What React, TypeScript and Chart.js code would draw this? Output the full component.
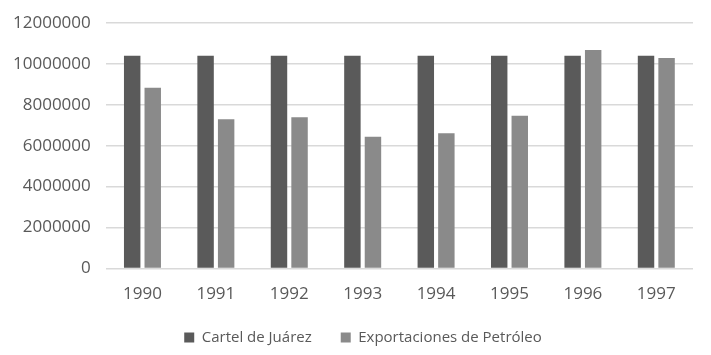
import React, { useEffect, useRef } from "react";
import { Chart, registerables } from "chart.js";

Chart.register(...registerables);

const categories = ["1990", "1991", "1992", "1993", "1994", "1995", "1996", "1997"];
const cartelJuarez = [10400000, 10400000, 10400000, 10400000, 10400000, 10400000, 10400000, 10400000];
const exportacionesPetroleo = [8830000, 7290000, 7390000, 6440000, 6610000, 7460000, 10680000, 10290000];
const seriesNames = ["Cartel de Juárez", "Exportaciones de Petróleo"];
const yTicksMax = 12000000;
const yTicksStep = 2000000;

const legendShift = {
  id: "legendShift",
  afterLayout(chart: any) {
    const lg = chart.legend;
    if (lg) {
      lg.left += 10;
      lg.right += 10;
    }
  },
};

export default function App() {
  const ref = useRef<HTMLCanvasElement | null>(null);
  useEffect(() => {
    document.body.style.margin = "0";
    const ctx = ref.current!;
    const font = "'Open Sans', 'Liberation Sans', sans-serif";
    const chart = new Chart(ctx, {
      type: "bar",
      data: {
        labels: categories,
        datasets: [
          {
            label: seriesNames[0],
            data: cartelJuarez,
            backgroundColor: "#5a5a5a",
            barPercentage: 0.8,
            categoryPercentage: 0.56,
          },
          {
            label: seriesNames[1],
            data: exportacionesPetroleo,
            backgroundColor: "#8a8a8a",
            barPercentage: 0.8,
            categoryPercentage: 0.56,
          },
        ],
      },
      plugins: [legendShift],
      options: {
        animation: false,
        responsive: false,
        maintainAspectRatio: false,
        layout: { padding: { left: 13, right: 18, top: 23, bottom: 0 } },
        plugins: {
          tooltip: { enabled: false },
          legend: {
            position: "bottom",
            labels: {
              boxWidth: 10,
              boxHeight: 10,
              padding: 29,
              color: "#595959",
              font: { family: font, size: 15 },
            },
          },
        },
        scales: {
          x: {
            grid: { display: false, drawTicks: true, tickLength: 19 },
            border: { display: false },
            ticks: {
              color: "#595959",
              font: { family: font, size: 17, lineHeight: 0.8 },
              padding: 0,
            },
          },
          y: {
            min: 0,
            max: yTicksMax,
            grid: {
              color: "#d9d9d9",
              lineWidth: 1.5,
              drawTicks: true,
              tickLength: 15,
              tickColor: "rgba(0,0,0,0)",
            },
            border: { display: false },
            ticks: {
              stepSize: yTicksStep,
              color: "#595959",
              font: { family: font, size: 17 },
              padding: 0,
              callback: (v: any) => String(v),
            },
          },
        },
      },
    });
    return () => chart.destroy();
  }, []);
  return <canvas ref={ref} width={711} height={355} style={{ display: "block" }} />;
}
